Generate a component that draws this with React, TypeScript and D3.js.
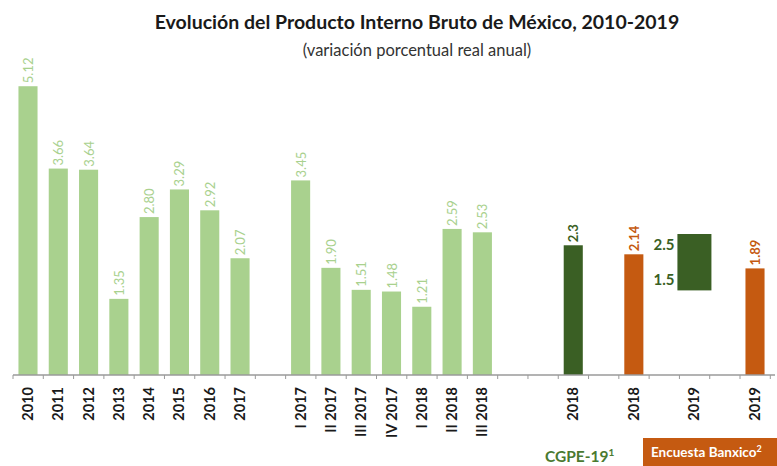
import React from "react";
import * as d3 from "d3";

// annual series
const years = ["2010", "2011", "2012", "2013", "2014", "2015", "2016", "2017"];
const yearValues = [5.12, 3.66, 3.64, 1.35, 2.8, 3.29, 2.92, 2.07];
const yearLabels = ["5.12", "3.66", "3.64", "1.35", "2.80", "3.29", "2.92", "2.07"];

// quarterly series
const quarters = ["I 2017", "II 2017", "III 2017", "IV 2017", "I 2018", "II 2018", "III 2018"];
const quarterValues = [3.45, 1.9, 1.51, 1.48, 1.21, 2.59, 2.53];
const quarterLabels = ["3.45", "1.90", "1.51", "1.48", "1.21", "2.59", "2.53"];

// forecasts
const cgpeYears = ["2018", "2019"];
const cgpe2018 = 2.3;
const cgpe2019Range = [1.5, 2.5];
const banxicoYears = ["2018", "2019"];
const banxicoValues = [2.14, 1.89];
const banxicoLabels = ["2.14", "1.89"];

const W = 777;
const H = 466;
const LIGHT = "#a9d18e";
const DARK = "#3a5f24";
const ORANGE = "#c55a11";
const FONT = "Lato, 'Open Sans', sans-serif";

type Bar = { slot: number; label: string; value: number; text: string; color: string; textColor: string };

const slots = d3.range(25);
const bars: Bar[] = [
  ...years.map((y, i) => ({ slot: i, label: y, value: yearValues[i], text: yearLabels[i], color: LIGHT, textColor: LIGHT })),
  ...quarters.map((q, i) => ({ slot: 9 + i, label: q, value: quarterValues[i], text: quarterLabels[i], color: LIGHT, textColor: LIGHT })),
  { slot: 18, label: cgpeYears[0], value: cgpe2018, text: String(cgpe2018), color: DARK, textColor: DARK },
  ...banxicoYears.map((y, i) => ({ slot: 20 + i * 4, label: y, value: banxicoValues[i], text: banxicoLabels[i], color: ORANGE, textColor: ORANGE })),
];
const rangeSlot = 22;

const App: React.FC = () => {
  const x = d3.scaleBand<number>().domain(slots).range([13, 770]).paddingInner(0.37).paddingOuter(0.18);
  const y = d3.scaleLinear().domain([0, 5]).range([375, 375 - 5 * 56.4]);
  const step = x.step();
  const x0 = 13;
  const cx = (s: number) => (x(s) as number) + x.bandwidth() / 2;
  const boundaries = d3.range(26).map((k) => x0 + k * step);

  const axisLabels = [
    ...bars.map((b) => ({ slot: b.slot, label: b.label })),
    { slot: rangeSlot, label: cgpeYears[1] },
  ];

  return (
    <svg width={W} height={H} style={{ position: "absolute", left: 0, top: 0, background: "#fff" }} fontFamily={FONT}>
      <text x={417} y={29} textAnchor="middle" fontWeight="bold" fontSize={19.5} fill="#1a1a1a">
        Evolución del Producto Interno Bruto de México, 2010-2019
      </text>
      <text x={417} y={56} textAnchor="middle" fontSize={16.5} fill="#333">
        (variación porcentual real anual)
      </text>

      {bars.map((b) => (
        <g key={"b" + b.slot}>
          <rect x={x(b.slot)} y={y(b.value)} width={x.bandwidth()} height={y(0) - y(b.value)} fill={b.color} />
          <text
            transform={`translate(${cx(b.slot) + 5},${y(b.value) - 3}) rotate(-90)`}
            fontSize={13}
            fill={b.textColor}
            fontWeight={b.color === LIGHT ? "normal" : "bold"}
          >
            {b.text}
          </text>
        </g>
      ))}

      <rect
        x={cx(rangeSlot) - 17}
        y={y(cgpe2019Range[1])}
        width={34}
        height={y(cgpe2019Range[0]) - y(cgpe2019Range[1])}
        fill={DARK}
      />
      <text x={cx(rangeSlot) - 20} y={y(cgpe2019Range[1]) + 16} textAnchor="end" fontSize={15} fontWeight="bold" fill={DARK}>
        {cgpe2019Range[1].toFixed(1)}
      </text>
      <text x={cx(rangeSlot) - 20} y={y(cgpe2019Range[0]) - 5} textAnchor="end" fontSize={15} fontWeight="bold" fill={DARK}>
        {cgpe2019Range[0].toFixed(1)}
      </text>

      <line x1={x0} x2={775} y1={375} y2={375} stroke="#9a9a9a" strokeWidth={1.5} />
      {boundaries.map((bx, i) => (
        <line key={"t" + i} x1={bx} x2={bx} y1={375} y2={379} stroke="#9a9a9a" />
      ))}

      {axisLabels.map((a) => (
        <text
          key={"l" + a.slot}
          transform={`translate(${cx(a.slot) + 5},${387}) rotate(-90)`}
          textAnchor="end"
          fontSize={14.5}
          fontWeight="bold"
          fill="#1a1a1a"
        >
          {a.label}
        </text>
      ))}

      <text x={545} y={462} fontSize={15.5} fontWeight="bold" fill="#4a7a30">
        CGPE-19<tspan fontSize={10} dy={-6}>1</tspan>
      </text>
      <rect x={643} y={438} width={140} height={30} fill={ORANGE} />
      <text x={651} y={457} fontSize={13.5} fontWeight="bold" fill="#fff">
        Encuesta Banxico<tspan fontSize={9} dy={-5}>2</tspan>
      </text>
    </svg>
  );
};

export default App;
